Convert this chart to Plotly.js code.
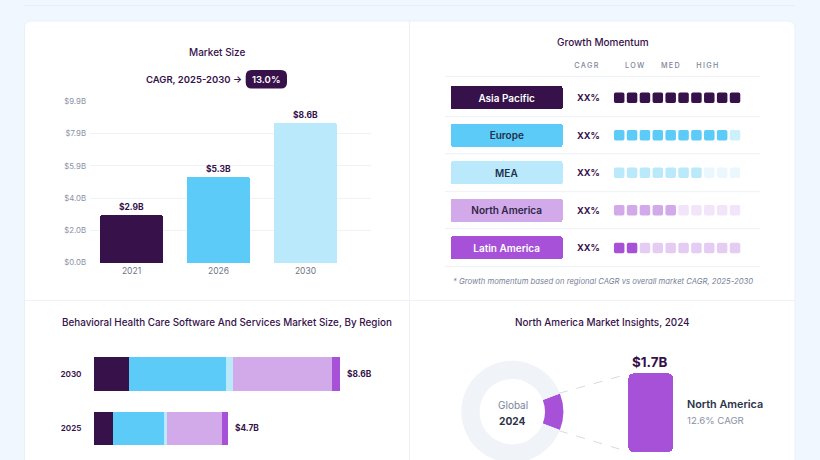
<!DOCTYPE html>
<html><head><meta charset="utf-8">
<script src="https://cdn.plot.ly/plotly-3.0.1.min.js"></script>
<style>
html,body{margin:0;padding:0;width:820px;height:460px;overflow:hidden;background:#f0f7fe}
#c{width:820px;height:500px}
/* round the joins of the outlined cells and boxes, and let the outlines show past the subplot */
.scatterlayer .points path,.bars .point path{stroke-linejoin:round}
.bars .point path{clip-path:none !important}
</style></head><body><div id="c"></div>
<script>
// ---- data ----
const marketYears = ['2021','2026','2030'];
const marketValues = [2.92,5.26,8.58];
const marketLabels = ['$2.9B','$5.3B','$8.6B'];
const marketTickVals = [0,1.98,3.96,5.94,7.92,9.9];
const marketTickText = ['$0.0B','$2.0B','$4.0B','$5.9B','$7.9B','$9.9B'];

const regions = ['Asia Pacific','Europe','MEA','North America','Latin America'];
const regionCagr = ['XX%','XX%','XX%','XX%','XX%'];
const regionFilled = [10,9,7,5,2];
const regionColors = ['#36114a','#5ccbf7','#bae9fb','#d2a9e9','#a651d8'];
const regionOff = ['#36114a','#cdf0fd','#eaf8fe','#f2e5f9','#e5ccf3'];
const regionText = ['#ffffff','#23304a','#23304a','#2e2648','#ffffff'];
const momentumCols = [0,1,2,3,4,5,6,7,8,9];

const stackYears = ['2030','2025'];
const stackValues = {
  'Asia Pacific':[1.25,0.67],
  'Europe':[3.37,1.79],
  'MEA':[0.23,0.12],
  'North America':[3.47,1.92],
  'Latin America':[0.28,0.20]
};
const stackTotals = [8.6,4.7];
const stackLabels = ['$8.6B','$4.7B'];

const donutLabels = ['North America','Rest of world'];
const donutValues = [11.7,88.3];
const insightValue = [1.7];

// ---- layout helpers ----
const W=820,H=500;
const FONT='Inter, sans-serif';
const fx=x=>x/W, fy=y=>1-y/H;
const domX=(a,b)=>[fx(a),fx(b)], domY=(top,bot)=>[fy(bot),fy(top)];
const DARK='#36114a';
function ann(text,x,y,o={}){return {text,xref:'paper',yref:'paper',x:fx(x),y:fy(y),showarrow:false,
  xanchor:o.anchor||'center',yanchor:'middle',
  font:{family:FONT,size:o.size||10,color:o.color||DARK,weight:o.weight||500,style:o.style||'normal'}};}
function rr(x0,y0,x1,y1,r){const X=fx,Y=fy;
  const kx=r/W, ky=r/H;
  return `M${X(x0)+kx},${Y(y0)} L${X(x1)-kx},${Y(y0)} Q${X(x1)},${Y(y0)} ${X(x1)},${Y(y0)-ky} L${X(x1)},${Y(y1)+ky} Q${X(x1)},${Y(y1)} ${X(x1)-kx},${Y(y1)} L${X(x0)+kx},${Y(y1)} Q${X(x0)},${Y(y1)} ${X(x0)},${Y(y1)+ky} L${X(x0)},${Y(y0)-ky} Q${X(x0)},${Y(y0)} ${X(x0)+kx},${Y(y0)} Z`;}
function line(x0,y0,x1,y1,color,dash){return {type:'line',xref:'paper',yref:'paper',layer:'below',
  x0:fx(x0),y0:fy(y0),x1:fx(x1),y1:fy(y1),line:{color,width:1,dash:dash||'solid'}};}

// ---- traces ----
const traces=[];
// market size bars
traces.push({type:'bar',x:marketYears,y:marketValues,xaxis:'x',yaxis:'y',width:0.724,
  marker:{color:[regionColors[0],regionColors[1],regionColors[2]],cornerradius:2},
  text:marketLabels,textposition:'outside',cliponaxis:false,textangle:0,
  textfont:{family:FONT,size:8.5,color:DARK,weight:700},hoverinfo:'skip'});
// region label boxes
traces.push({type:'bar',orientation:'h',y:regions,x:regions.map(()=>1),xaxis:'x3',yaxis:'y2',width:0.535,cliponaxis:false,
  marker:{color:regionColors,line:{color:regionColors,width:3}},
  text:regions,textposition:'inside',insidetextanchor:'middle',textangle:0,constraintext:'none',
  insidetextfont:{family:FONT,size:10,color:regionText,weight:600},hoverinfo:'skip'});
// momentum cells
const cx=[],cy=[],cc=[];
regions.forEach((r,i)=>momentumCols.forEach(c=>{cx.push(c);cy.push(r);cc.push(c<regionFilled[i]?regionColors[i]:regionOff[i]);}));
traces.push({type:'scatter',mode:'markers',x:cx,y:cy,xaxis:'x2',yaxis:'y2',cliponaxis:false,
  marker:{symbol:'square',size:7,color:cc,line:{color:cc,width:3.5}},hoverinfo:'skip'});
// stacked region bars
regions.forEach((r,i)=>traces.push({type:'bar',orientation:'h',name:r,y:stackYears,x:stackValues[r],
  xaxis:'x4',yaxis:'y4',width:0.613,
  marker:{color:regionColors[i],cornerradius:i===4?2:0},hoverinfo:'skip'}));
// donut
traces.push({type:'pie',labels:donutLabels,values:donutValues,hole:0.64,sort:false,direction:'clockwise',rotation:69,
  domain:{x:domX(461.3,563.3),y:domY(360.7,462.7)},textinfo:'none',hoverinfo:'skip',showlegend:false,
  marker:{colors:[regionColors[4],'#f0f4f9'],line:{width:0}}});
// insight bar
traces.push({type:'bar',x:['North America'],y:insightValue,xaxis:'x5',yaxis:'y5',width:1,cliponaxis:false,
  marker:{color:regionColors[4],line:{color:regionColors[4],width:11}},hoverinfo:'skip'});

// ---- layout ----
const hidden={visible:false,fixedrange:true};
const rowLines=[76.3,116.7,153.7,191.7,228.7,266.7].map(y=>line(445,y,760,y,'#eef1f6'));
const cagrAnn=regionCagr.map((t,i)=>({text:t,xref:'x2',yref:'y2',x:(588-619.2)/12.87,y:i,showarrow:false,
  xanchor:'center',yanchor:'middle',font:{family:FONT,size:9.2,color:DARK,weight:700}}));
const totalAnn=stackLabels.map((t,i)=>({text:t,xref:'x4',yref:'y4',x:stackTotals[i],y:i,showarrow:false,
  xanchor:'left',yanchor:'middle',xshift:5,font:{family:FONT,size:8.4,color:DARK,weight:700}}));
const layout={
  width:W,height:H,margin:{l:0,r:0,t:0,b:0},showlegend:false,
  paper_bgcolor:'#f0f7fe',plot_bgcolor:'rgba(0,0,0,0)',barmode:'stack',
  font:{family:FONT},
  xaxis:{domain:domX(90,371),type:'category',range:[-0.477,2.753],anchor:'y',showgrid:false,zeroline:false,
    tickfont:{family:FONT,size:8.5,color:'#6e7589'},ticks:'',ticklabelstandoff:2,fixedrange:true},
  yaxis:{domain:domY(101.5,262.5),range:[0,9.9],anchor:'x',tickvals:marketTickVals,ticktext:marketTickText,
    gridcolor:'#eff3f8',gridwidth:1,zeroline:false,tickfont:{family:FONT,size:7.8,color:'#8a91a6'},ticks:'',ticklabelstandoff:3,fixedrange:true},
  xaxis2:Object.assign({domain:domX(560,770),range:[(560-619.2)/12.87,(770-619.2)/12.87],anchor:'y2'},hidden),
  yaxis2:Object.assign({domain:domY(75,270),type:'category',categoryorder:'array',categoryarray:regions,
    range:[(270-97.7)/37.55,(75-97.7)/37.55],anchor:'x2'},hidden),
  xaxis3:Object.assign({domain:domX(452.5,561),range:[0,1],anchor:'y2'},hidden),
  xaxis4:Object.assign({domain:domX(93.5,400),range:[0,(400-93.5)/28.66],anchor:'y4'},hidden),
  yaxis4:{domain:domY(350,452),type:'category',categoryorder:'array',categoryarray:stackYears,
    range:[(452-374)/54.3,(350-374)/54.3],anchor:'x4',showgrid:false,zeroline:false,showline:false,ticks:'',
    ticklabelstandoff:11,tickfont:{family:FONT,size:8.2,color:DARK,weight:600},fixedrange:true},
  xaxis5:Object.assign({domain:domX(633.8,667.8),type:'category',range:[-0.5,0.5],anchor:'y5'},hidden),
  yaxis5:Object.assign({domain:domY(378.8,446.8),range:[0,1.7],anchor:'x5'},hidden),
  shapes:[
    line(24,5.5,795,5.5,'#e6eef6'),
    {type:'path',xref:'paper',yref:'paper',layer:'below',path:rr(24.5,21,795,480,7),fillcolor:'#ffffff',line:{color:'#e9f1f8',width:1}},
    line(409.5,21,409.5,480,'#eef2f7'),
    line(24.5,300.5,795,300.5,'#eef2f7'),
    ...rowLines,
    {type:'path',xref:'paper',yref:'paper',path:rr(245.7,70,287,88.5,6),fillcolor:DARK,line:{width:0},layer:'below'},
    line(559,393.3,628,374,'#d5dbe3','dash'),
    line(559,430.7,628,451.7,'#d5dbe3','dash')
  ],
  annotations:[
    ann('Market Size',217,52,{size:10}),
    ann('CAGR, 2025-2030 →',193.5,79.5,{size:9.5,weight:600}),
    ann('13.0%',266,79.5,{size:9.5,color:'#ffffff',weight:600}),
    ann('Growth Momentum',602.5,42,{size:10}),
    ann('CAGR',586.5,65.5,{size:7.2,color:'#7d8599'}),
    ann('LOW',635.5,65.5,{size:7.2,color:'#7d8599'}),
    ann('MED',671,65.5,{size:7.2,color:'#7d8599'}),
    ann('HIGH',708,65.5,{size:7.2,color:'#7d8599'}),
    ann('* Growth momentum based on regional CAGR vs overall market CAGR, 2025-2030',603,281,{size:7.7,color:'#7a8298',style:'italic',weight:400}),
    ann('Behavioral Health Care Software And Services Market Size, By Region',227,322,{size:9.9}),
    ann('North America Market Insights, 2024',602.5,322,{size:9.9}),
    ann('Global',512.5,405,{size:10,color:'#7b849a',weight:400}),
    ann('2024',512.5,420.5,{size:10.2,color:'#2b3448',weight:700}),
    ann('$1.7B',649.5,361.5,{size:13.4,weight:700}),
    ann('North America',684.5,404.5,{size:10.8,color:'#2b3448',weight:600,anchor:'left'}),
    ann('12.6% CAGR',685,420.5,{size:9.6,color:'#8a91a6',weight:400,anchor:'left'}),
    ...cagrAnn,...totalAnn
  ]
};
Plotly.newPlot('c',traces,layout,{displayModeBar:false,staticPlot:true}).then(()=>{
  const wide=['CAGR','LOW','MED','HIGH'];
  document.querySelectorAll('.annotation-text').forEach(t=>{
    if(wide.includes(t.textContent)) t.style.letterSpacing='1.4px';
  });
});
</script></body></html>
